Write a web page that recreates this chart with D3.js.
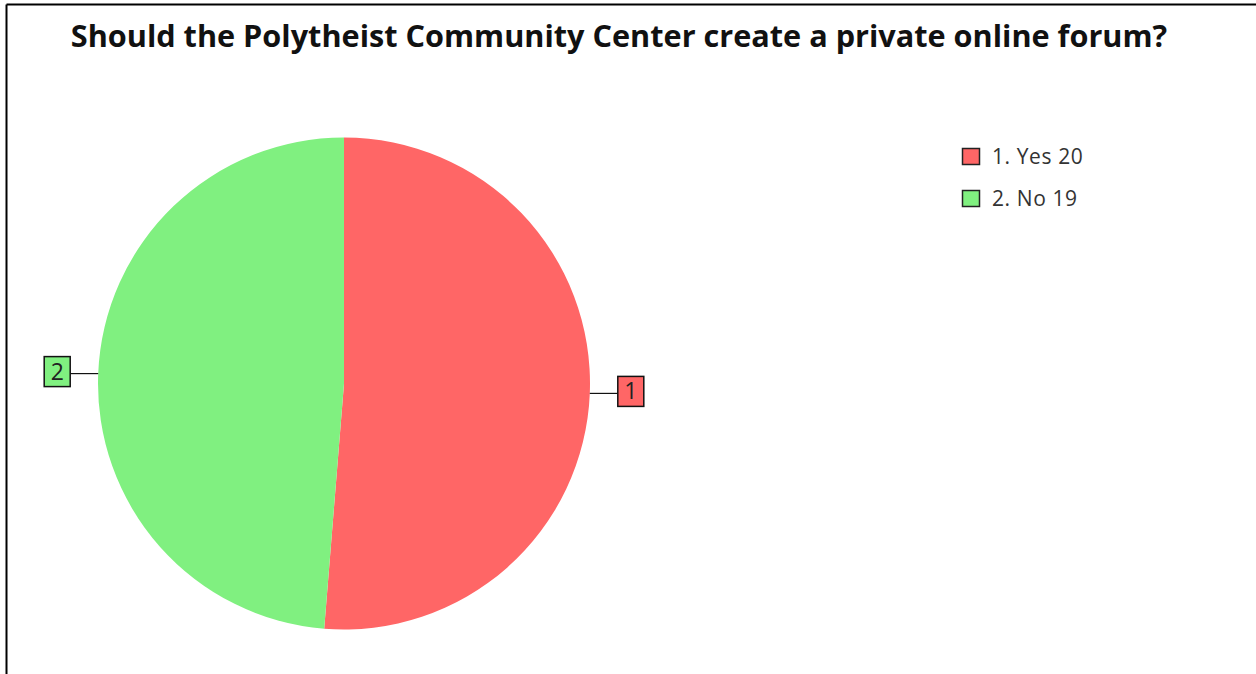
<!DOCTYPE html>
<html>
<head>
<meta charset="utf-8">
<script src="https://cdn.jsdelivr.net/npm/d3@7/dist/d3.min.js"></script>
<style>
  html, body { margin: 0; padding: 0; background: #fff; }
  svg { display: block; }
</style>
</head>
<body>
<svg id="chart" width="1256" height="674"></svg>
<script>
// Poll results
const title = "Should the Polytheist Community Center create a private online forum?";
const categories = ["1. Yes", "2. No"];
const sliceIds = ["1", "2"];
const counts = [20, 19];
const colors = ["#ff6666", "#80f080"];

const W = 1256, H = 674;
const svg = d3.select("#chart");

// frame (top and left edges)
svg.append("line").attr("x1", 6.5).attr("y1", 4.5).attr("x2", W).attr("y2", 4.5)
  .attr("stroke", "#000").attr("stroke-width", 2);
svg.append("line").attr("x1", 6.5).attr("y1", 4.5).attr("x2", 6.5).attr("y2", H)
  .attr("stroke", "#000").attr("stroke-width", 2);

// title
const t = svg.append("text")
  .attr("x", 619).attr("y", 47)
  .attr("text-anchor", "middle")
  .attr("font-family", "'Open Sans', sans-serif")
  .attr("font-weight", "bold")
  .attr("font-size", 24)
  .attr("fill", "#111")
  .text(title);
// fit title width
const targetW = 1097;
const tw = t.node().getComputedTextLength();
t.attr("font-size", 24 * targetW / tw);

// pie
const cx = 344, cy = 383.5, r = 246;
const g = svg.append("g").attr("transform", `translate(${cx},${cy})`);
const pie = d3.pie().sort(null).value(d => d)(counts);
const arc = d3.arc().innerRadius(0).outerRadius(r);

g.selectAll("path.slice").data(pie).join("path")
  .attr("class", "slice")
  .attr("d", arc)
  .attr("fill", (d, i) => colors[i]);

// slice callouts
const lineLen = 28, boxW = 26, boxH = 30;
pie.forEach((d, i) => {
  const a = (d.startAngle + d.endAngle) / 2;
  const px = r * Math.sin(a), py = -r * Math.cos(a);
  const right = Math.sin(a) >= 0;
  const ex = px + (right ? lineLen : -lineLen);
  g.append("line")
    .attr("x1", px).attr("y1", py).attr("x2", ex).attr("y2", py)
    .attr("stroke", "#111").attr("stroke-width", 1.2);
  const bx = right ? ex : ex - boxW;
  const by = py - boxH / 2 - 2;
  g.append("rect")
    .attr("x", bx).attr("y", by)
    .attr("width", boxW).attr("height", boxH)
    .attr("fill", colors[i]).attr("stroke", "#111").attr("stroke-width", 1.5);
  g.append("text")
    .attr("x", bx + boxW / 2).attr("y", by + boxH / 2 + 8)
    .attr("text-anchor", "middle")
    .attr("font-family", "'Open Sans', sans-serif")
    .attr("font-size", 23)
    .attr("fill", "#222")
    .text(sliceIds[i]);
});

// legend
const lg = svg.append("g").attr("transform", "translate(962,148)");
categories.forEach((c, i) => {
  const row = lg.append("g").attr("transform", `translate(0,${i * 42})`);
  row.append("rect").attr("x", 0.5).attr("y", 0.5).attr("width", 17).attr("height", 16)
    .attr("fill", colors[i]).attr("stroke", "#222").attr("stroke-width", 1.5);
  row.append("text").attr("x", 30).attr("y", 16)
    .attr("font-family", "'Open Sans', sans-serif")
    .attr("font-size", 21)
    .attr("letter-spacing", 0.6)
    .attr("fill", "#333")
    .text(`${c} ${counts[i]}`);
});
</script>
</body>
</html>
